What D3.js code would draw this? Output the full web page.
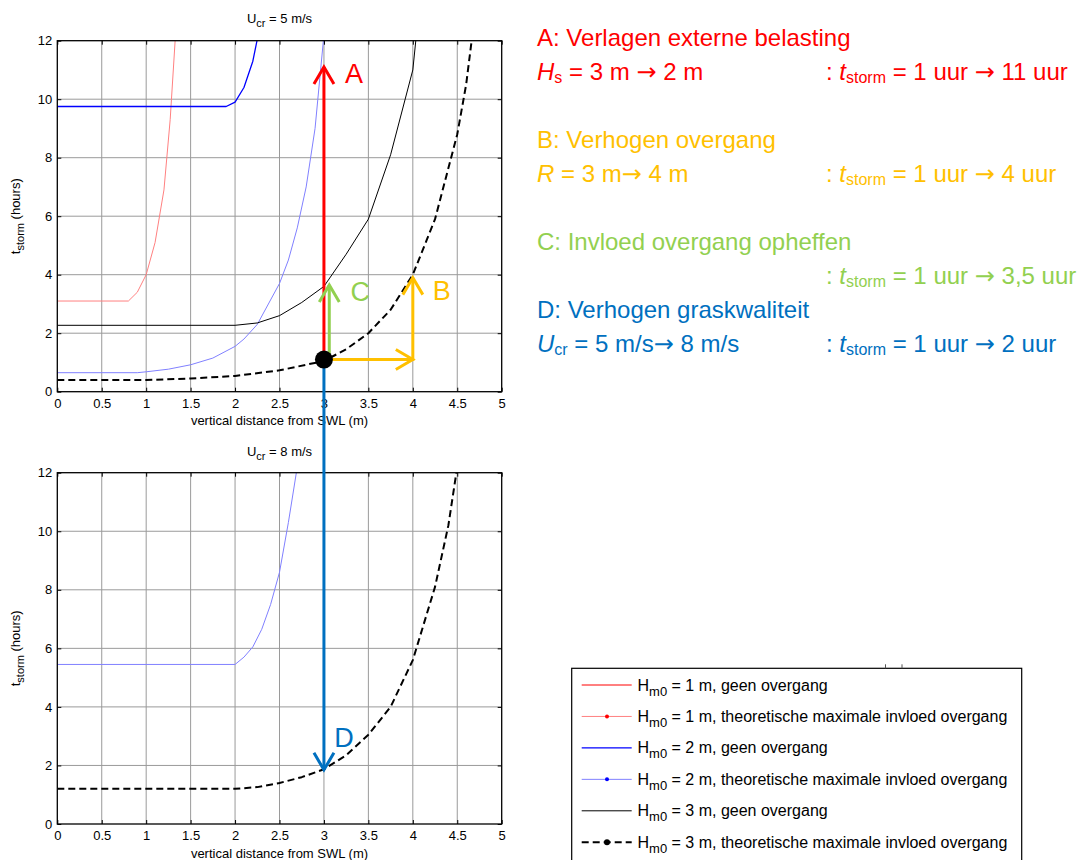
<!DOCTYPE html>
<html>
<head>
<meta charset="utf-8">
<script src="https://cdn.jsdelivr.net/npm/d3@7"></script>
<style>
  body { margin: 0; background: #fff; }
  svg { display: block; }
  text { font-family: "Liberation Sans", Arial, Helvetica, sans-serif; }
</style>
</head>
<body>
<svg id="chart" width="1081" height="860"></svg>
<script>
// ---- axis ticks ----
const xTicks = [0, 0.5, 1, 1.5, 2, 2.5, 3, 3.5, 4, 4.5, 5];
const yTicks = [0, 2, 4, 6, 8, 10, 12];

// ---- U_cr = 5 m/s : t_storm (hours) against vertical distance from SWL (m) ----
const h1MaxU5 = [[0, 3.1], [0.8, 3.1], [0.9, 3.4], [1.0, 4.0], [1.1, 5.1], [1.2, 6.9], [1.27, 9.3], [1.33, 12.2]];
const h2NoneU5 = [[0, 9.75], [1.9, 9.75], [2.0, 9.9], [2.1, 10.4], [2.2, 11.3], [2.26, 12.2]];
const h2MaxU5 = [[0, 0.65], [0.9, 0.65], [1.0, 0.68], [1.25, 0.77], [1.5, 0.92], [1.75, 1.15], [2.0, 1.55],
                 [2.1, 1.8], [2.25, 2.3], [2.5, 3.7], [2.6, 4.5], [2.7, 5.6], [2.8, 7.0], [2.9, 9.0], [3.0, 12.2]];
const h3NoneU5 = [[0, 2.27], [2.0, 2.27], [2.25, 2.35], [2.5, 2.6], [2.75, 3.05], [3.0, 3.6], [3.25, 4.7],
                  [3.5, 5.9], [3.75, 8.1], [4.0, 11.0], [4.04, 12.2]];
const h3MaxU5 = [[0, 0.4], [1.0, 0.4], [1.5, 0.45], [2.0, 0.54], [2.5, 0.73], [3.0, 1.05], [3.25, 1.45],
                 [3.5, 2.0], [3.75, 2.8], [4.0, 4.0], [4.25, 5.9], [4.5, 8.8], [4.6, 10.5], [4.67, 12.2]];

// ---- U_cr = 8 m/s ----
const h2MaxU8 = [[0, 5.45], [2.0, 5.45], [2.1, 5.7], [2.2, 6.05], [2.3, 6.65], [2.4, 7.5], [2.5, 8.6],
                 [2.6, 10.3], [2.7, 12.2]];
const h3MaxU8 = [[0, 1.2], [2.0, 1.2], [2.25, 1.26], [2.5, 1.4], [2.75, 1.6], [3.0, 1.87], [3.25, 2.35],
                 [3.5, 3.05], [3.75, 4.0], [4.0, 5.6], [4.25, 8.1], [4.4, 10.2], [4.5, 12.2]];

// ---- legend ----
const legendHm0 = [1, 1, 2, 2, 3, 3];
const legendCase = ["geen overgang", "theoretische maximale invloed overgang",
                    "geen overgang", "theoretische maximale invloed overgang",
                    "geen overgang", "theoretische maximale invloed overgang"];

// ---- measures (arrows in the chart and text on the right) ----
const measureNames = ["A: Verlagen externe belasting", "B: Verhogen overgang",
                      "C: Invloed overgang opheffen", "D: Verhogen graskwaliteit"];
const measureSymbol = [["H", "s"], ["R", ""], null, ["U", "cr"]];
const measureChange = [" = 3 m \u2192 2 m", " = 3 m\u2192 4 m", null, " = 5 m/s\u2192 8 m/s"];
const stormBefore = ["1", "1", "1", "1"];
const stormAfter = ["11", "4", "3,5", "2"];

// starting point (x = 3 m, t = 1.1 h) and arrow ends
const basePoint = [3, 1.1];
const arrowA = [[3, 1.1], [3, 11.1]];
const arrowB = [[3, 1.1], [4, 1.1], [4, 3.9]];
const arrowC = [[3.06, 1.1], [3.06, 3.65]];
const arrowDEnd = [3, 1.85];

// ---- styling ----
const RED = "#ff0000", ORANGE = "#ffc000", GREEN = "#92d050", BLUE = "#0070c0";
const measureColors = [RED, ORANGE, GREEN, BLUE];
const styles = {
  h1None: { stroke: "#ff0000", width: 1, dash: null, marker: 0 },
  h1Max:  { stroke: "#ff8080", width: 1, dash: null, marker: 2, markerFill: "#ff0000" },
  h2None: { stroke: "#0000ff", width: 1.3, dash: null, marker: 0 },
  h2Max:  { stroke: "#8080ff", width: 1, dash: null, marker: 2, markerFill: "#0000ff" },
  h3None: { stroke: "#000000", width: 1, dash: null, marker: 0 },
  h3Max:  { stroke: "#000000", width: 2, dash: "7,4", marker: 3, markerFill: "#000000" }
};
const legendStyleKeys = ["h1None", "h1Max", "h2None", "h2Max", "h3None", "h3Max"];

const svg = d3.select("#chart");
const X0 = 57.3, X1 = 501.7;
const xScale = d3.scaleLinear().domain([0, 5]).range([X0, X1]);

const panels = [
  { id: "u5", ucr: "5", top: 40.7, bottom: 391.7, titleY: 23, labelY: 425,
    series: [["h1Max", h1MaxU5], ["h2None", h2NoneU5], ["h2Max", h2MaxU5], ["h3None", h3NoneU5], ["h3Max", h3MaxU5]] },
  { id: "u8", ucr: "8", top: 472.7, bottom: 824, titleY: 456, labelY: 858,
    series: [["h2Max", h2MaxU8], ["h3Max", h3MaxU8]] }
];

// Writes runs of text into a <text>: "n" normal, "i" italic, "s" subscript.
// Arrows (→) in normal runs are set in DejaVu Sans for a fuller glyph.
function addSub(textSel, parts, size, subSize, shift) {
  let lowered = false;
  parts.forEach(([s, kind]) => {
    const pieces = kind === "n" ? s.split(/(\u2192)/) : [s];
    pieces.forEach((piece, k) => {
      if (piece === "") return;
      const t = textSel.append("tspan").text(piece);
      if (kind === "s") {
        t.attr("font-size", subSize);
        if (!lowered) { t.attr("dy", shift); lowered = true; }
      } else {
        t.attr("font-size", size);
        if (lowered) { t.attr("dy", -shift); lowered = false; }
        if (kind === "i") t.attr("font-style", "italic");
        if (piece === "\u2192") t.attr("font-family", '"DejaVu Sans", sans-serif');
      }
    });
  });
}

panels.forEach(p => {
  const y = d3.scaleLinear().domain([0, 12]).range([p.bottom, p.top]);
  p.y = y;
  const g = svg.append("g");

  // grid
  g.selectAll(".gx").data(xTicks.slice(1, -1)).join("line")
    .attr("x1", d => xScale(d)).attr("x2", d => xScale(d))
    .attr("y1", p.top).attr("y2", p.bottom)
    .attr("stroke", "#9a9a9a").attr("stroke-width", 1);
  g.selectAll(".gy").data(yTicks.slice(1, -1)).join("line")
    .attr("y1", d => y(d)).attr("y2", d => y(d))
    .attr("x1", X0).attr("x2", X1)
    .attr("stroke", "#9a9a9a").attr("stroke-width", 1);

  // curves
  const clipId = "clip-" + p.id;
  svg.append("clipPath").attr("id", clipId).append("rect")
    .attr("x", X0).attr("y", p.top).attr("width", X1 - X0).attr("height", p.bottom - p.top);
  const line = d3.line().x(d => xScale(d[0])).y(d => y(d[1]));
  const cg = g.append("g").attr("clip-path", `url(#${clipId})`);
  p.series.forEach(([key, data]) => {
    const st = styles[key];
    cg.append("path").datum(data).attr("d", line)
      .attr("fill", "none").attr("stroke", st.stroke).attr("stroke-width", st.width)
      .attr("stroke-dasharray", st.dash).attr("stroke-linejoin", "round");
  });

  // axes (ticks inside on all four sides)
  const fmt = d => String(d);
  const ax = [
    [d3.axisBottom(xScale).tickValues(xTicks).tickFormat(fmt).tickSize(-4).tickPadding(7), `translate(0,${p.bottom})`],
    [d3.axisTop(xScale).tickValues(xTicks).tickFormat("").tickSize(-4), `translate(0,${p.top})`],
    [d3.axisLeft(y).tickValues(yTicks).tickFormat(fmt).tickSize(-4).tickPadding(5), `translate(${X0},0)`],
    [d3.axisRight(y).tickValues(yTicks).tickFormat("").tickSize(-4), `translate(${X1},0)`]
  ];
  ax.forEach(([a, tr]) => {
    const s = g.append("g").attr("transform", tr).call(a);
    s.select(".domain").remove();
    s.selectAll("text").attr("font-size", 13).attr("fill", "#000")
      .attr("font-family", '"Liberation Sans", Arial, sans-serif');
    s.selectAll("line").attr("stroke", "#000");
  });
  g.append("rect").attr("x", X0).attr("y", p.top).attr("width", X1 - X0).attr("height", p.bottom - p.top)
    .attr("fill", "none").attr("stroke", "#000").attr("stroke-width", 1.3);

  // title
  const tt = g.append("text").attr("x", (X0 + X1) / 2).attr("y", p.titleY).attr("text-anchor", "middle");
  addSub(tt, [["U", "n"], ["cr", "s"], [" = " + p.ucr + " m/s", "n"]], 13, 11, 4);

  // axis labels
  g.append("text").attr("x", (X0 + X1) / 2).attr("y", p.labelY).attr("text-anchor", "middle")
    .attr("font-size", 13).text("vertical distance from SWL (m)");
  const yl = g.append("text").attr("text-anchor", "middle")
    .attr("transform", `translate(20,${(p.top + p.bottom) / 2}) rotate(-90)`);
  addSub(yl, [["t", "n"], ["storm", "s"], [" (hours)", "n"]], 13, 11, 4);
});

// ---- arrows ----
const yTop = panels[0].y, yBot = panels[1].y;
function chevron(tip, dir, color) {
  const L = 17, W = 10;
  let pts;
  if (dir === "up") pts = [[tip[0] - W, tip[1] + L], tip, [tip[0] + W, tip[1] + L]];
  if (dir === "down") pts = [[tip[0] - W, tip[1] - L], tip, [tip[0] + W, tip[1] - L]];
  if (dir === "right") pts = [[tip[0] - L, tip[1] - W], tip, [tip[0] - L, tip[1] + W]];
  svg.append("polyline").attr("points", pts.map(q => q.join(",")).join(" "))
    .attr("fill", "none").attr("stroke", color).attr("stroke-width", 3);
}
function pathTop(pts, color) {
  const px = pts.map(d => [xScale(d[0]), yTop(d[1])]);
  svg.append("polyline").attr("points", px.map(q => q.join(",")).join(" "))
    .attr("fill", "none").attr("stroke", color).attr("stroke-width", 3);
  return px;
}
function label(txt, x, y, color) {
  svg.append("text").attr("x", x).attr("y", y).attr("text-anchor", "middle")
    .attr("dominant-baseline", "central").attr("font-size", 27).attr("fill", color).text(txt);
}

// D: from the base point in the upper panel down to the lower panel
const dStart = [xScale(basePoint[0]), yTop(basePoint[1])];
const dEnd = [xScale(arrowDEnd[0]), yBot(arrowDEnd[1])];
svg.append("line").attr("x1", dStart[0]).attr("y1", dStart[1]).attr("x2", dEnd[0]).attr("y2", dEnd[1])
  .attr("stroke", BLUE).attr("stroke-width", 3);
chevron(dEnd, "down", BLUE);
label("D", dEnd[0] + 20, dEnd[1] - 32, BLUE);

// A
const pa = pathTop(arrowA, RED);
chevron(pa[1], "up", RED);
label("A", pa[1][0] + 30, pa[1][1] + 7, RED);

// C
const pc = pathTop(arrowC, GREEN);
chevron(pc[1], "up", GREEN);
label("C", pc[1][0] + 31, pc[1][1] + 7, GREEN);

// B
const pb = pathTop(arrowB, ORANGE);
chevron(pb[1], "right", ORANGE);
chevron(pb[2], "up", ORANGE);
label("B", pb[2][0] + 29, pb[2][1] + 13, ORANGE);

// base point
svg.append("circle").attr("cx", dStart[0]).attr("cy", dStart[1]).attr("r", 9).attr("fill", "#000");

// ---- measure descriptions ----
const headY = [46, 148, 250, 318];
const changeY = [80, 182, 284, 352];
const TX = 537, TX2 = 826;
measureNames.forEach((name, i) => {
  const c = measureColors[i];
  svg.append("text").attr("x", TX).attr("y", headY[i]).attr("font-size", 24).attr("fill", c).text(name);
  if (measureSymbol[i]) {
    const t = svg.append("text").attr("x", TX).attr("y", changeY[i]).attr("fill", c);
    const parts = [[measureSymbol[i][0], "i"]];
    if (measureSymbol[i][1]) parts.push([measureSymbol[i][1], "s"]);
    parts.push([measureChange[i], "n"]);
    addSub(t, parts, 24, 16, 3);
  }
  const r = svg.append("text").attr("x", TX2).attr("y", changeY[i]).attr("fill", c);
  addSub(r, [[": ", "n"], ["t", "i"], ["storm", "s"],
             [" = " + stormBefore[i] + " uur \u2192 " + stormAfter[i] + " uur", "n"]], 24, 16, 3);
});

// ---- legend ----
const LX = 571.7, LY = 668.3, LW = 450;
svg.append("rect").attr("x", LX).attr("y", LY).attr("width", LW).attr("height", 220)
  .attr("fill", "#fff").attr("stroke", "#000").attr("stroke-width", 1.2);
[885.5, 902].forEach(x => svg.append("line").attr("x1", x).attr("x2", x).attr("y1", LY - 4).attr("y2", LY)
  .attr("stroke", "#555").attr("stroke-width", 1));
legendHm0.forEach((h, i) => {
  const st = styles[legendStyleKeys[i]];
  const yy = 685 + i * 31.45;
  svg.append("line").attr("x1", 581.7).attr("x2", 631.7).attr("y1", yy).attr("y2", yy)
    .attr("stroke", st.stroke).attr("stroke-width", st.width).attr("stroke-dasharray", st.dash);
  if (st.marker) {
    svg.append("circle").attr("cx", 607).attr("cy", yy).attr("r", st.marker).attr("fill", st.markerFill);
  }
  const t = svg.append("text").attr("x", 637.5).attr("y", yy + 5.5).attr("fill", "#000");
  addSub(t, [["H", "n"], ["m0", "s"], [" = " + h + " m, " + legendCase[i], "n"]], 16, 13, 5);
});
</script>
</body>
</html>
